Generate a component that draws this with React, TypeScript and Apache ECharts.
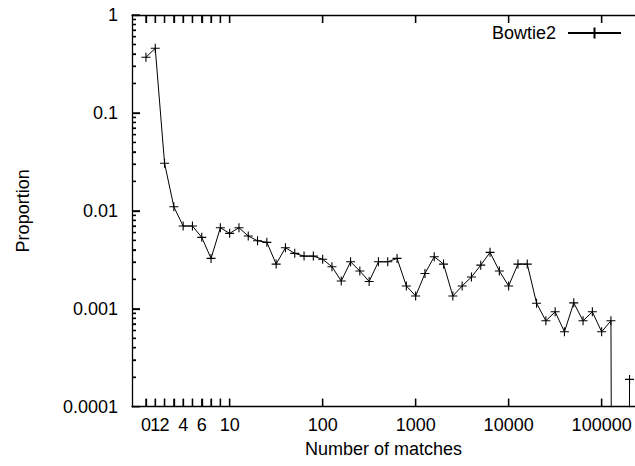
import { useEffect, useRef } from "react";
import * as echarts from "echarts";

// Proportion of reads per bin of "number of matches" (bins are evenly spaced on the plot)
const proportion = [
  0.370, 0.457, 0.0306, 0.0110, 0.0070, 0.0070, 0.00536, 0.00327, 0.00672, 0.00589,
  0.00672, 0.00553, 0.00495, 0.00477, 0.00286, 0.00420, 0.00368, 0.00345, 0.00345, 0.00320,
  0.00269, 0.00192, 0.00302, 0.00243, 0.00190, 0.00302, 0.00302, 0.00327, 0.00171, 0.00135,
  0.00229, 0.00340, 0.00286, 0.00135, 0.00171, 0.00211, 0.00279, 0.00377, 0.00243, 0.00171,
  0.00286, 0.00286, 0.00114, 0.000754, 0.000931, 0.000582, 0.00115, 0.000754, 0.000931, 0.000582,
  0.000754, 0, 0.000190,
];

const seriesName = "Bowtie2";
// bin slots on the x axis (first bin sits at slot 2, so the axis range never contains 0)
const xTickBins = [2, 3, 4, 5, 6, 7, 8, 9, 10, 11, 21, 31, 41, 51];
// a leading empty label keeps ECharts' min-label overlap check away from "0" and "1"
const xLabelBins = [1, 2, 3, 4, 6, 8, 11, 21, 31, 41, 51];
const xLabelTexts = ["", "0", "1", "2", "4", "6", "10", "100", "1000", "10000", "100000"];
const yTickLabels = ["0.0001", "0.001", "0.01", "0.1", "1"];
const yDecades = [-4, -3, -2, -1, 0];
const yMinorMultipliers = [2, 3, 4, 5, 6, 7, 8, 9];

const FIRST_SLOT = 2;
const X_MIN = 0.5;
const X_MAX = 54.586;
const Y_MIN = 0.0001;
const Y_MAX = 1;
const LOG_SHIFT = 5; // minor-tick helper axis: log10(v) + 5, range 1..5

const FONT = "'Liberation Sans', Arial, Helvetica, sans-serif";
const LOG_FLOOR = 1e-30; // zero counts drop below the log axis

export default function App() {
  const ref = useRef<HTMLDivElement>(null);

  useEffect(() => {
    if (!ref.current) return;
    const chart = echarts.init(ref.current, null, { renderer: "svg" });

    const data = proportion.map((v, i) => [i + FIRST_SLOT, v > 0 ? v : LOG_FLOOR]);
    const minorTicks: number[] = [];
    yDecades.slice(0, -1).forEach((d) =>
      yMinorMultipliers.forEach((k) => minorTicks.push(Math.log10(k) + d + LOG_SHIFT))
    );

    const axisLine = { show: true, lineStyle: { color: "#000", width: 1.3 } };
    const tickStyle = { color: "#000", width: 1.3 };

    chart.setOption({
      animation: false,
      textStyle: { fontFamily: FONT, color: "#000" },
      grid: { left: 132, top: 15, right: 0, bottom: 59.3, containLabel: false },
      legend: {
        data: [seriesName],
        right: 8,
        top: 19,
        align: "right",
        itemWidth: 53,
        itemHeight: 14,
        textStyle: { fontFamily: FONT, fontSize: 18, color: "#000", padding: [0, 7, 0, 0] },
      },
      xAxis: [
        {
          type: "value",
          position: "bottom",
          min: X_MIN,
          max: X_MAX,
          axisLine,
          splitLine: { show: false },
          axisTick: { show: true, inside: true, length: 8, lineStyle: tickStyle, customValues: xTickBins },
          axisLabel: {
            show: true,
            customValues: xLabelBins,
            hideOverlap: false,
            margin: 9,
            fontSize: 18,
            fontFamily: FONT,
            color: "#000",
            formatter: (v: number) => xLabelTexts[xLabelBins.indexOf(Math.round(v))] ?? "",
          },
          name: "Number of matches",
          nameLocation: "middle",
          nameGap: 33,
          nameTextStyle: { fontSize: 18, fontFamily: FONT, color: "#000" },
        },
        {
          type: "value",
          position: "top",
          min: X_MIN,
          max: X_MAX,
          axisLine,
          splitLine: { show: false },
          axisTick: { show: true, inside: true, length: 8, lineStyle: tickStyle, customValues: xTickBins },
          axisLabel: { show: false },
        },
      ],
      yAxis: [
        {
          type: "log",
          logBase: 10,
          position: "left",
          min: Y_MIN,
          max: Y_MAX,
          axisLine,
          splitLine: { show: false },
          minorTick: { show: false },
          axisTick: { show: true, inside: true, length: 8, lineStyle: tickStyle },
          axisLabel: {
            show: true,
            showMinLabel: true,
            showMaxLabel: true,
            margin: 14,
            fontSize: 18,
            fontFamily: FONT,
            color: "#000",
            formatter: (v: number) => yTickLabels[Math.round(Math.log10(v)) + 4] ?? "",
          },
          name: "Proportion",
          nameLocation: "middle",
          nameGap: 100,
          nameTextStyle: { fontSize: 18, fontFamily: FONT, color: "#000" },
        },
        {
          type: "value",
          position: "left",
          min: 1,
          max: 5,
          axisLine: { show: false },
          splitLine: { show: false },
          axisTick: { show: true, inside: true, length: 4, lineStyle: tickStyle, customValues: minorTicks },
          axisLabel: { show: false },
        },
      ],
      series: [
        {
          name: seriesName,
          type: "line",
          xAxisIndex: 0,
          yAxisIndex: 0,
          data,
          clip: true,
          symbol: "path://M0,5H10M5,0V10",
          symbolSize: 9,
          showSymbol: true,
          showAllSymbol: true,
          lineStyle: { color: "#000", width: 1 },
          itemStyle: { color: "#000", borderColor: "#000", borderWidth: 1.1 },
          emphasis: { disabled: true },
        },
      ],
    });

    // inward (gnuplot-style) tick marks, also placed through the chart's own axis scales
    try {
      const toPx = (x: number, y: number) =>
        chart.convertToPixel({ xAxisIndex: 0, yAxisIndex: 0 }, [x, y]) as number[];
      const tickLine = (x1: number, y1: number, x2: number, y2: number) => ({
        type: "line",
        z: 100,
        silent: true,
        shape: { x1, y1, x2, y2 },
        style: { stroke: "#000", lineWidth: 1.3 },
      });
      const ticks: any[] = [];
      xTickBins.forEach((b) => {
        const pb = toPx(b, Y_MIN);
        const pt = toPx(b, Y_MAX);
        if (pb && pt && isFinite(pb[0]) && isFinite(pb[1]) && isFinite(pt[1])) {
          ticks.push(tickLine(pb[0], pb[1], pb[0], pb[1] - 8));
          ticks.push(tickLine(pt[0], pt[1], pt[0], pt[1] + 8));
        }
      });
      yDecades.forEach((d, di) => {
        const p = toPx(X_MIN, Math.pow(10, d));
        if (p && isFinite(p[0]) && isFinite(p[1])) ticks.push(tickLine(p[0], p[1], p[0] + 8, p[1]));
        if (di < yDecades.length - 1) {
          yMinorMultipliers.forEach((k) => {
            const q = toPx(X_MIN, k * Math.pow(10, d));
            if (q && isFinite(q[0]) && isFinite(q[1])) ticks.push(tickLine(q[0], q[1], q[0] + 4, q[1]));
          });
        }
      });
      if (ticks.length) chart.setOption({ graphic: { elements: ticks } });
    } catch (e) {
      // axis ticks above already cover this
    }

    return () => chart.dispose();
  }, []);

  return (
    <div
      ref={ref}
      style={{ position: "fixed", left: 0, top: 0, width: 635, height: 466, background: "#fff" }}
    />
  );
}
